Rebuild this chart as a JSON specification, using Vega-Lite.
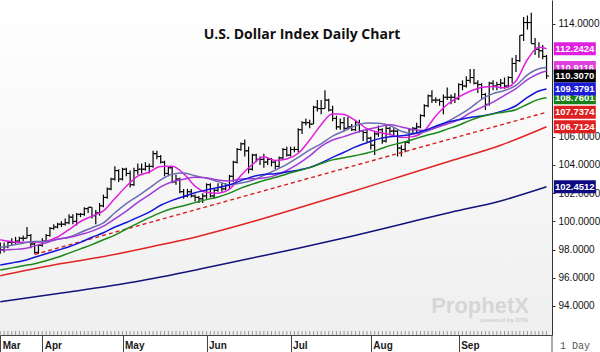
{
"$schema": "https://vega.github.io/schema/vega-lite/v6.json",
"width": 552, "height": 335,
"autosize": {"type": "none"},
"padding": {"left": 0, "top": 0, "right": 48, "bottom": 17},
"background": "#ffffff",
"config": {"view": {"stroke": null}, "font": "Liberation Sans"},
"datasets": {
"bars": [
{"i":-11,"d":"2022-03-17","o":98.4,"h":98.5,"l":97.7,"c":98.0},
{"i":-10,"d":"2022-03-18","o":98.0,"h":98.5,"l":97.8,"c":98.2},
{"i":-9,"d":"2022-03-21","o":98.2,"h":98.6,"l":98.1,"c":98.5},
{"i":-8,"d":"2022-03-22","o":98.5,"h":98.8,"l":98.3,"c":98.5},
{"i":-7,"d":"2022-03-23","o":98.5,"h":98.9,"l":98.4,"c":98.6},
{"i":-6,"d":"2022-03-24","o":98.6,"h":98.9,"l":98.5,"c":98.8},
{"i":-5,"d":"2022-03-25","o":98.8,"h":99.0,"l":98.6,"c":98.8},
{"i":-4,"d":"2022-03-28","o":98.8,"h":99.6,"l":98.8,"c":99.0},
{"i":-3,"d":"2022-03-29","o":99.0,"h":99.1,"l":98.1,"c":98.4},
{"i":-2,"d":"2022-03-30","o":98.4,"h":98.5,"l":97.7,"c":97.8},
{"i":-1,"d":"2022-03-31","o":97.8,"h":98.4,"l":97.7,"c":98.3},
{"i":0,"d":"2022-04-01","o":98.3,"h":98.8,"l":98.2,"c":98.6},
{"i":1,"d":"2022-04-04","o":98.6,"h":99.1,"l":98.6,"c":99.0},
{"i":2,"d":"2022-04-05","o":99.0,"h":99.6,"l":98.9,"c":99.5},
{"i":3,"d":"2022-04-06","o":99.5,"h":99.8,"l":99.4,"c":99.6},
{"i":4,"d":"2022-04-07","o":99.6,"h":99.9,"l":99.5,"c":99.8},
{"i":5,"d":"2022-04-08","o":99.8,"h":100.0,"l":99.6,"c":99.8},
{"i":6,"d":"2022-04-11","o":99.8,"h":100.2,"l":99.7,"c":99.9},
{"i":7,"d":"2022-04-12","o":99.9,"h":100.5,"l":99.8,"c":100.3},
{"i":8,"d":"2022-04-13","o":100.3,"h":100.5,"l":99.8,"c":100.0},
{"i":9,"d":"2022-04-14","o":100.0,"h":100.6,"l":99.7,"c":100.5},
{"i":10,"d":"2022-04-15","o":100.5,"h":100.6,"l":100.3,"c":100.5},
{"i":11,"d":"2022-04-18","o":100.5,"h":101.0,"l":100.4,"c":100.9},
{"i":12,"d":"2022-04-19","o":100.9,"h":101.0,"l":100.6,"c":101.0},
{"i":13,"d":"2022-04-20","o":101.0,"h":101.0,"l":100.2,"c":100.4},
{"i":14,"d":"2022-04-21","o":100.4,"h":100.8,"l":99.8,"c":100.6},
{"i":15,"d":"2022-04-22","o":100.6,"h":101.3,"l":100.4,"c":101.1},
{"i":16,"d":"2022-04-25","o":101.1,"h":101.9,"l":101.0,"c":101.7},
{"i":17,"d":"2022-04-26","o":101.7,"h":102.4,"l":101.6,"c":102.3},
{"i":18,"d":"2022-04-27","o":102.3,"h":103.1,"l":102.2,"c":103.0},
{"i":19,"d":"2022-04-28","o":103.0,"h":103.9,"l":102.9,"c":103.6},
{"i":20,"d":"2022-04-29","o":103.6,"h":103.7,"l":102.8,"c":103.0},
{"i":21,"d":"2022-05-02","o":103.0,"h":103.8,"l":102.9,"c":103.7},
{"i":22,"d":"2022-05-03","o":103.7,"h":103.8,"l":103.2,"c":103.4},
{"i":23,"d":"2022-05-04","o":103.4,"h":103.6,"l":102.4,"c":102.6},
{"i":24,"d":"2022-05-05","o":102.6,"h":103.8,"l":102.5,"c":103.6},
{"i":25,"d":"2022-05-06","o":103.6,"h":104.1,"l":103.3,"c":103.7},
{"i":26,"d":"2022-05-09","o":103.7,"h":104.1,"l":103.4,"c":103.7},
{"i":27,"d":"2022-05-10","o":103.7,"h":104.2,"l":103.6,"c":103.9},
{"i":28,"d":"2022-05-11","o":103.9,"h":104.1,"l":103.4,"c":103.9},
{"i":29,"d":"2022-05-12","o":103.9,"h":105.0,"l":103.8,"c":104.8},
{"i":30,"d":"2022-05-13","o":104.8,"h":105.0,"l":104.4,"c":104.6},
{"i":31,"d":"2022-05-16","o":104.6,"h":104.7,"l":104.1,"c":104.2},
{"i":32,"d":"2022-05-17","o":104.2,"h":104.3,"l":103.2,"c":103.4},
{"i":33,"d":"2022-05-18","o":103.4,"h":103.9,"l":103.2,"c":103.8},
{"i":34,"d":"2022-05-19","o":103.8,"h":103.9,"l":102.7,"c":102.8},
{"i":35,"d":"2022-05-20","o":102.8,"h":103.3,"l":102.6,"c":103.0},
{"i":36,"d":"2022-05-23","o":103.0,"h":103.1,"l":102.0,"c":102.1},
{"i":37,"d":"2022-05-24","o":102.1,"h":102.3,"l":101.6,"c":101.8},
{"i":38,"d":"2022-05-25","o":101.8,"h":102.3,"l":101.7,"c":102.1},
{"i":39,"d":"2022-05-26","o":102.1,"h":102.3,"l":101.7,"c":101.8},
{"i":40,"d":"2022-05-27","o":101.8,"h":101.9,"l":101.4,"c":101.7},
{"i":41,"d":"2022-05-30","o":101.7,"h":101.8,"l":101.3,"c":101.6},
{"i":42,"d":"2022-05-31","o":101.6,"h":102.0,"l":101.3,"c":101.8},
{"i":43,"d":"2022-06-01","o":101.8,"h":102.7,"l":101.6,"c":102.6},
{"i":44,"d":"2022-06-02","o":102.6,"h":102.7,"l":101.7,"c":101.8},
{"i":45,"d":"2022-06-03","o":101.8,"h":102.3,"l":101.6,"c":102.2},
{"i":46,"d":"2022-06-06","o":102.2,"h":102.7,"l":102.1,"c":102.4},
{"i":47,"d":"2022-06-07","o":102.4,"h":102.7,"l":102.1,"c":102.3},
{"i":48,"d":"2022-06-08","o":102.3,"h":102.7,"l":102.2,"c":102.6},
{"i":49,"d":"2022-06-09","o":102.6,"h":103.3,"l":102.3,"c":103.2},
{"i":50,"d":"2022-06-10","o":103.2,"h":104.3,"l":102.8,"c":104.2},
{"i":51,"d":"2022-06-13","o":104.2,"h":105.2,"l":104.1,"c":105.1},
{"i":52,"d":"2022-06-14","o":105.1,"h":105.6,"l":105.0,"c":105.5},
{"i":53,"d":"2022-06-15","o":105.5,"h":105.8,"l":104.6,"c":105.0},
{"i":54,"d":"2022-06-16","o":105.0,"h":105.3,"l":103.4,"c":103.7},
{"i":55,"d":"2022-06-17","o":103.7,"h":104.8,"l":103.6,"c":104.7},
{"i":56,"d":"2022-06-20","o":104.7,"h":104.8,"l":104.2,"c":104.4},
{"i":57,"d":"2022-06-21","o":104.4,"h":104.6,"l":104.0,"c":104.4},
{"i":58,"d":"2022-06-22","o":104.4,"h":104.8,"l":103.8,"c":104.2},
{"i":59,"d":"2022-06-23","o":104.2,"h":104.5,"l":104.0,"c":104.4},
{"i":60,"d":"2022-06-24","o":104.4,"h":104.5,"l":103.9,"c":104.2},
{"i":61,"d":"2022-06-27","o":104.2,"h":104.3,"l":103.7,"c":103.9},
{"i":62,"d":"2022-06-28","o":103.9,"h":104.6,"l":103.8,"c":104.5},
{"i":63,"d":"2022-06-29","o":104.5,"h":105.2,"l":104.4,"c":105.1},
{"i":64,"d":"2022-06-30","o":105.1,"h":105.3,"l":104.6,"c":104.7},
{"i":65,"d":"2022-07-01","o":104.7,"h":105.3,"l":104.6,"c":105.1},
{"i":66,"d":"2022-07-04","o":105.1,"h":105.3,"l":104.9,"c":105.1},
{"i":67,"d":"2022-07-05","o":105.1,"h":106.6,"l":104.9,"c":106.5},
{"i":68,"d":"2022-07-06","o":106.5,"h":107.1,"l":106.2,"c":107.0},
{"i":69,"d":"2022-07-07","o":107.0,"h":107.3,"l":106.8,"c":107.0},
{"i":70,"d":"2022-07-08","o":107.0,"h":107.2,"l":106.6,"c":106.9},
{"i":71,"d":"2022-07-11","o":106.9,"h":108.2,"l":106.9,"c":108.1},
{"i":72,"d":"2022-07-12","o":108.1,"h":108.6,"l":107.8,"c":108.0},
{"i":73,"d":"2022-07-13","o":108.0,"h":108.6,"l":107.6,"c":108.0},
{"i":74,"d":"2022-07-14","o":108.0,"h":109.3,"l":108.0,"c":108.6},
{"i":75,"d":"2022-07-15","o":108.6,"h":108.7,"l":107.8,"c":107.9},
{"i":76,"d":"2022-07-18","o":107.9,"h":108.2,"l":107.1,"c":107.3},
{"i":77,"d":"2022-07-19","o":107.3,"h":107.5,"l":106.5,"c":106.7},
{"i":78,"d":"2022-07-20","o":106.7,"h":107.3,"l":106.5,"c":107.0},
{"i":79,"d":"2022-07-21","o":107.0,"h":107.4,"l":106.4,"c":106.6},
{"i":80,"d":"2022-07-22","o":106.6,"h":107.4,"l":106.5,"c":106.7},
{"i":81,"d":"2022-07-25","o":106.7,"h":106.9,"l":106.4,"c":106.5},
{"i":82,"d":"2022-07-26","o":106.5,"h":107.2,"l":106.4,"c":107.0},
{"i":83,"d":"2022-07-27","o":107.0,"h":107.2,"l":106.3,"c":106.4},
{"i":84,"d":"2022-07-28","o":106.4,"h":106.5,"l":105.7,"c":106.3},
{"i":85,"d":"2022-07-29","o":106.3,"h":106.5,"l":105.6,"c":105.9},
{"i":86,"d":"2022-08-01","o":105.9,"h":106.0,"l":105.1,"c":105.4},
{"i":87,"d":"2022-08-02","o":105.4,"h":106.4,"l":104.7,"c":106.2},
{"i":88,"d":"2022-08-03","o":106.2,"h":106.8,"l":106.0,"c":106.5},
{"i":89,"d":"2022-08-04","o":106.5,"h":106.6,"l":105.5,"c":105.7},
{"i":90,"d":"2022-08-05","o":105.7,"h":106.9,"l":105.6,"c":106.6},
{"i":91,"d":"2022-08-08","o":106.6,"h":106.7,"l":106.1,"c":106.4},
{"i":92,"d":"2022-08-09","o":106.4,"h":106.6,"l":106.1,"c":106.4},
{"i":93,"d":"2022-08-10","o":106.4,"h":106.5,"l":104.6,"c":105.2},
{"i":94,"d":"2022-08-11","o":105.2,"h":105.4,"l":104.6,"c":105.1},
{"i":95,"d":"2022-08-12","o":105.1,"h":105.7,"l":104.9,"c":105.6},
{"i":96,"d":"2022-08-15","o":105.6,"h":106.6,"l":105.5,"c":106.5},
{"i":97,"d":"2022-08-16","o":106.5,"h":106.7,"l":106.2,"c":106.6},
{"i":98,"d":"2022-08-17","o":106.6,"h":107.0,"l":106.3,"c":106.7},
{"i":99,"d":"2022-08-18","o":106.7,"h":107.6,"l":106.6,"c":107.5},
{"i":100,"d":"2022-08-19","o":107.5,"h":108.3,"l":107.4,"c":108.2},
{"i":101,"d":"2022-08-22","o":108.2,"h":109.0,"l":108.1,"c":108.9},
{"i":102,"d":"2022-08-23","o":108.9,"h":109.3,"l":108.4,"c":108.6},
{"i":103,"d":"2022-08-24","o":108.6,"h":108.8,"l":108.4,"c":108.6},
{"i":104,"d":"2022-08-25","o":108.6,"h":108.7,"l":108.2,"c":108.5},
{"i":105,"d":"2022-08-26","o":108.5,"h":109.0,"l":107.6,"c":108.8},
{"i":106,"d":"2022-08-29","o":108.8,"h":109.5,"l":108.6,"c":108.8},
{"i":107,"d":"2022-08-30","o":108.8,"h":109.0,"l":108.3,"c":108.8},
{"i":108,"d":"2022-08-31","o":108.8,"h":109.1,"l":108.4,"c":108.7},
{"i":109,"d":"2022-09-01","o":108.7,"h":109.8,"l":108.6,"c":109.7},
{"i":110,"d":"2022-09-02","o":109.7,"h":110.0,"l":109.3,"c":109.6},
{"i":111,"d":"2022-09-05","o":109.6,"h":110.3,"l":109.5,"c":110.0},
{"i":112,"d":"2022-09-06","o":110.0,"h":110.8,"l":109.8,"c":110.2},
{"i":113,"d":"2022-09-07","o":110.2,"h":110.8,"l":109.7,"c":109.8},
{"i":114,"d":"2022-09-08","o":109.8,"h":110.0,"l":109.1,"c":109.7},
{"i":115,"d":"2022-09-09","o":109.7,"h":109.8,"l":108.7,"c":109.0},
{"i":116,"d":"2022-09-12","o":109.0,"h":109.1,"l":107.9,"c":108.3},
{"i":117,"d":"2022-09-13","o":108.3,"h":109.9,"l":108.2,"c":109.8},
{"i":118,"d":"2022-09-14","o":109.8,"h":110.0,"l":109.3,"c":109.6},
{"i":119,"d":"2022-09-15","o":109.6,"h":109.9,"l":109.3,"c":109.7},
{"i":120,"d":"2022-09-16","o":109.7,"h":110.1,"l":109.4,"c":109.8},
{"i":121,"d":"2022-09-19","o":109.8,"h":110.2,"l":109.4,"c":109.6},
{"i":122,"d":"2022-09-20","o":109.6,"h":110.3,"l":109.5,"c":110.2},
{"i":123,"d":"2022-09-21","o":110.2,"h":111.6,"l":109.8,"c":111.2},
{"i":124,"d":"2022-09-22","o":111.2,"h":111.8,"l":110.6,"c":111.4},
{"i":125,"d":"2022-09-23","o":111.4,"h":113.2,"l":111.3,"c":113.2},
{"i":126,"d":"2022-09-26","o":113.2,"h":114.5,"l":112.8,"c":114.1},
{"i":127,"d":"2022-09-27","o":114.1,"h":114.6,"l":113.6,"c":114.1},
{"i":128,"d":"2022-09-28","o":114.1,"h":114.8,"l":112.6,"c":112.6},
{"i":129,"d":"2022-09-29","o":112.6,"h":113.0,"l":111.8,"c":112.2},
{"i":130,"d":"2022-09-30","o":112.2,"h":112.7,"l":111.6,"c":112.1},
{"i":131,"d":"2022-10-03","o":112.1,"h":112.5,"l":111.5,"c":111.7},
{"i":132,"d":"2022-10-04","o":111.7,"h":111.8,"l":110.1,"c":110.31}
],
"ma": [
{"s":"MA9","i":-11,"v":98.69},{"s":"MA9","i":-8,"v":98.56},{"s":"MA9","i":-5,"v":98.51},{"s":"MA9","i":-2,"v":98.51},{"s":"MA9","i":1,"v":98.59},{"s":"MA9","i":4,"v":98.89},{"s":"MA9","i":7,"v":99.42},{"s":"MA9","i":10,"v":99.99},{"s":"MA9","i":13,"v":100.37},{"s":"MA9","i":16,"v":100.74},{"s":"MA9","i":19,"v":101.62},{"s":"MA9","i":22,"v":102.49},{"s":"MA9","i":25,"v":103.21},{"s":"MA9","i":28,"v":103.5},{"s":"MA9","i":31,"v":103.89},{"s":"MA9","i":34,"v":103.9},{"s":"MA9","i":37,"v":103.39},{"s":"MA9","i":40,"v":102.5},{"s":"MA9","i":43,"v":102.06},{"s":"MA9","i":46,"v":102.0},{"s":"MA9","i":49,"v":102.28},{"s":"MA9","i":52,"v":103.26},{"s":"MA9","i":55,"v":104.03},{"s":"MA9","i":58,"v":104.58},{"s":"MA9","i":61,"v":104.32},{"s":"MA9","i":64,"v":104.42},{"s":"MA9","i":67,"v":104.83},{"s":"MA9","i":70,"v":105.77},{"s":"MA9","i":73,"v":106.86},{"s":"MA9","i":76,"v":107.64},{"s":"MA9","i":79,"v":107.58},{"s":"MA9","i":82,"v":107.14},{"s":"MA9","i":85,"v":106.57},{"s":"MA9","i":88,"v":106.32},{"s":"MA9","i":91,"v":106.16},{"s":"MA9","i":94,"v":105.94},{"s":"MA9","i":97,"v":106.01},{"s":"MA9","i":100,"v":106.42},{"s":"MA9","i":103,"v":107.47},{"s":"MA9","i":106,"v":108.29},{"s":"MA9","i":109,"v":108.82},{"s":"MA9","i":112,"v":109.23},{"s":"MA9","i":115,"v":109.5},{"s":"MA9","i":118,"v":109.56},{"s":"MA9","i":121,"v":109.48},{"s":"MA9","i":124,"v":109.96},{"s":"MA9","i":127,"v":111.48},{"s":"MA9","i":130,"v":112.34},{"s":"MA9","i":132,"v":112.24},
{"s":"MA20","i":-11,"v":98.15},{"s":"MA20","i":-8,"v":98.3},{"s":"MA20","i":-5,"v":98.45},{"s":"MA20","i":-2,"v":98.57},{"s":"MA20","i":1,"v":98.57},{"s":"MA20","i":4,"v":98.74},{"s":"MA20","i":7,"v":98.89},{"s":"MA20","i":10,"v":99.21},{"s":"MA20","i":13,"v":99.55},{"s":"MA20","i":16,"v":99.89},{"s":"MA20","i":19,"v":100.61},{"s":"MA20","i":22,"v":101.26},{"s":"MA20","i":25,"v":101.79},{"s":"MA20","i":28,"v":102.36},{"s":"MA20","i":31,"v":102.94},{"s":"MA20","i":34,"v":103.34},{"s":"MA20","i":37,"v":103.43},{"s":"MA20","i":40,"v":103.23},{"s":"MA20","i":43,"v":103.05},{"s":"MA20","i":46,"v":102.82},{"s":"MA20","i":49,"v":102.59},{"s":"MA20","i":52,"v":102.72},{"s":"MA20","i":55,"v":102.91},{"s":"MA20","i":58,"v":103.26},{"s":"MA20","i":61,"v":103.63},{"s":"MA20","i":64,"v":104.04},{"s":"MA20","i":67,"v":104.53},{"s":"MA20","i":70,"v":105.07},{"s":"MA20","i":73,"v":105.5},{"s":"MA20","i":76,"v":106.05},{"s":"MA20","i":79,"v":106.41},{"s":"MA20","i":82,"v":106.79},{"s":"MA20","i":85,"v":106.98},{"s":"MA20","i":88,"v":106.95},{"s":"MA20","i":91,"v":106.79},{"s":"MA20","i":94,"v":106.39},{"s":"MA20","i":97,"v":106.23},{"s":"MA20","i":100,"v":106.34},{"s":"MA20","i":103,"v":106.65},{"s":"MA20","i":106,"v":107.07},{"s":"MA20","i":109,"v":107.51},{"s":"MA20","i":112,"v":108.03},{"s":"MA20","i":115,"v":108.66},{"s":"MA20","i":118,"v":109.06},{"s":"MA20","i":121,"v":109.28},{"s":"MA20","i":124,"v":109.64},{"s":"MA20","i":127,"v":110.39},{"s":"MA20","i":130,"v":110.83},{"s":"MA20","i":132,"v":110.91},
{"s":"MA25","i":-11,"v":97.95},{"s":"MA25","i":-8,"v":98.0},{"s":"MA25","i":-5,"v":98.05},{"s":"MA25","i":-2,"v":98.26},{"s":"MA25","i":1,"v":98.48},{"s":"MA25","i":4,"v":98.73},{"s":"MA25","i":7,"v":98.85},{"s":"MA25","i":10,"v":99.06},{"s":"MA25","i":13,"v":99.31},{"s":"MA25","i":16,"v":99.66},{"s":"MA25","i":19,"v":100.18},{"s":"MA25","i":22,"v":100.73},{"s":"MA25","i":25,"v":101.34},{"s":"MA25","i":28,"v":101.88},{"s":"MA25","i":31,"v":102.44},{"s":"MA25","i":34,"v":102.81},{"s":"MA25","i":37,"v":102.99},{"s":"MA25","i":40,"v":103.13},{"s":"MA25","i":43,"v":103.09},{"s":"MA25","i":46,"v":102.93},{"s":"MA25","i":49,"v":102.87},{"s":"MA25","i":52,"v":103.01},{"s":"MA25","i":55,"v":103.02},{"s":"MA25","i":58,"v":103.08},{"s":"MA25","i":61,"v":103.26},{"s":"MA25","i":64,"v":103.61},{"s":"MA25","i":67,"v":104.07},{"s":"MA25","i":70,"v":104.64},{"s":"MA25","i":73,"v":105.32},{"s":"MA25","i":76,"v":105.77},{"s":"MA25","i":79,"v":106.01},{"s":"MA25","i":82,"v":106.28},{"s":"MA25","i":85,"v":106.51},{"s":"MA25","i":88,"v":106.7},{"s":"MA25","i":91,"v":106.85},{"s":"MA25","i":94,"v":106.7},{"s":"MA25","i":97,"v":106.52},{"s":"MA25","i":100,"v":106.44},{"s":"MA25","i":103,"v":106.64},{"s":"MA25","i":106,"v":106.9},{"s":"MA25","i":109,"v":107.2},{"s":"MA25","i":112,"v":107.69},{"s":"MA25","i":115,"v":108.08},{"s":"MA25","i":118,"v":108.46},{"s":"MA25","i":121,"v":108.94},{"s":"MA25","i":124,"v":109.42},{"s":"MA25","i":127,"v":110.05},{"s":"MA25","i":130,"v":110.49},{"s":"MA25","i":132,"v":110.66},
{"s":"MA40","i":-11,"v":96.9},{"s":"MA40","i":-8,"v":97.05},{"s":"MA40","i":-5,"v":97.2},{"s":"MA40","i":-2,"v":97.45},{"s":"MA40","i":1,"v":97.7},{"s":"MA40","i":4,"v":97.95},{"s":"MA40","i":7,"v":98.2},{"s":"MA40","i":10,"v":98.51},{"s":"MA40","i":13,"v":98.87},{"s":"MA40","i":16,"v":99.19},{"s":"MA40","i":19,"v":99.6},{"s":"MA40","i":22,"v":99.92},{"s":"MA40","i":25,"v":100.28},{"s":"MA40","i":28,"v":100.66},{"s":"MA40","i":31,"v":101.14},{"s":"MA40","i":34,"v":101.49},{"s":"MA40","i":37,"v":101.76},{"s":"MA40","i":40,"v":102.03},{"s":"MA40","i":43,"v":102.23},{"s":"MA40","i":46,"v":102.4},{"s":"MA40","i":49,"v":102.58},{"s":"MA40","i":52,"v":102.89},{"s":"MA40","i":55,"v":103.17},{"s":"MA40","i":58,"v":103.32},{"s":"MA40","i":61,"v":103.38},{"s":"MA40","i":64,"v":103.5},{"s":"MA40","i":67,"v":103.63},{"s":"MA40","i":70,"v":103.82},{"s":"MA40","i":73,"v":104.14},{"s":"MA40","i":76,"v":104.54},{"s":"MA40","i":79,"v":104.9},{"s":"MA40","i":82,"v":105.28},{"s":"MA40","i":85,"v":105.58},{"s":"MA40","i":88,"v":105.85},{"s":"MA40","i":91,"v":106.0},{"s":"MA40","i":94,"v":106.07},{"s":"MA40","i":97,"v":106.2},{"s":"MA40","i":100,"v":106.44},{"s":"MA40","i":103,"v":106.75},{"s":"MA40","i":106,"v":107.03},{"s":"MA40","i":109,"v":107.2},{"s":"MA40","i":112,"v":107.37},{"s":"MA40","i":115,"v":107.47},{"s":"MA40","i":118,"v":107.64},{"s":"MA40","i":121,"v":107.87},{"s":"MA40","i":124,"v":108.2},{"s":"MA40","i":127,"v":108.79},{"s":"MA40","i":130,"v":109.25},{"s":"MA40","i":132,"v":109.38},
{"s":"MA50","i":-11,"v":96.55},{"s":"MA50","i":-8,"v":96.7},{"s":"MA50","i":-5,"v":96.85},{"s":"MA50","i":-2,"v":97.0},{"s":"MA50","i":1,"v":97.2},{"s":"MA50","i":4,"v":97.45},{"s":"MA50","i":7,"v":97.75},{"s":"MA50","i":10,"v":98.05},{"s":"MA50","i":13,"v":98.35},{"s":"MA50","i":16,"v":98.7},{"s":"MA50","i":19,"v":99.02},{"s":"MA50","i":22,"v":99.46},{"s":"MA50","i":25,"v":99.86},{"s":"MA50","i":28,"v":100.26},{"s":"MA50","i":31,"v":100.62},{"s":"MA50","i":34,"v":100.91},{"s":"MA50","i":37,"v":101.11},{"s":"MA50","i":40,"v":101.33},{"s":"MA50","i":43,"v":101.54},{"s":"MA50","i":46,"v":101.73},{"s":"MA50","i":49,"v":102.0},{"s":"MA50","i":52,"v":102.36},{"s":"MA50","i":55,"v":102.64},{"s":"MA50","i":58,"v":102.9},{"s":"MA50","i":61,"v":103.11},{"s":"MA50","i":64,"v":103.36},{"s":"MA50","i":67,"v":103.59},{"s":"MA50","i":70,"v":103.81},{"s":"MA50","i":73,"v":104.1},{"s":"MA50","i":76,"v":104.36},{"s":"MA50","i":79,"v":104.51},{"s":"MA50","i":82,"v":104.67},{"s":"MA50","i":85,"v":104.85},{"s":"MA50","i":88,"v":105.09},{"s":"MA50","i":91,"v":105.37},{"s":"MA50","i":94,"v":105.58},{"s":"MA50","i":97,"v":105.81},{"s":"MA50","i":100,"v":106.06},{"s":"MA50","i":103,"v":106.27},{"s":"MA50","i":106,"v":106.54},{"s":"MA50","i":109,"v":106.82},{"s":"MA50","i":112,"v":107.16},{"s":"MA50","i":115,"v":107.44},{"s":"MA50","i":118,"v":107.62},{"s":"MA50","i":121,"v":107.76},{"s":"MA50","i":124,"v":107.92},{"s":"MA50","i":127,"v":108.31},{"s":"MA50","i":130,"v":108.65},{"s":"MA50","i":132,"v":108.76},
{"s":"MA100","i":-11,"v":96.14},{"s":"MA100","i":2,"v":96.85},{"s":"MA100","i":15,"v":97.45},{"s":"MA100","i":28,"v":98.17},{"s":"MA100","i":41,"v":98.95},{"s":"MA100","i":54,"v":99.9},{"s":"MA100","i":67,"v":100.95},{"s":"MA100","i":81,"v":102.1},{"s":"MA100","i":94,"v":103.2},{"s":"MA100","i":107,"v":104.3},{"s":"MA100","i":120,"v":105.4},{"s":"MA100","i":132,"v":106.71},
{"s":"MA200","i":-11,"v":94.3},{"s":"MA200","i":6,"v":94.95},{"s":"MA200","i":24,"v":95.7},{"s":"MA200","i":41,"v":96.6},{"s":"MA200","i":54,"v":97.35},{"s":"MA200","i":67,"v":98.1},{"s":"MA200","i":81,"v":98.95},{"s":"MA200","i":94,"v":99.8},{"s":"MA200","i":107,"v":100.65},{"s":"MA200","i":120,"v":101.45},{"s":"MA200","i":132,"v":102.45}
],
"trend": [{"i":-2,"v":97.65},{"i":132,"v":107.74}],
"labA": [{"s":"MA9","v":112.2424},{"s":"MA20","v":110.9116},{"s":"MA50","v":108.7601},{"s":"MA100","v":106.7124},{"s":"MA200","v":102.4512}],
"labB": [{"s":"Last","v":110.307},{"s":"MA40","v":109.3791},{"s":"Trend","v":107.7374}]
},
"resolve": {"scale": {"color": "independent"}},
"layer": [
{"data": {"values": [{"area": "plot"}]},
 "mark": {"type": "rect", "color": {"gradient": "linear", "x1": 0, "y1": 0, "x2": 0, "y2": 1, "stops": [{"offset": 0, "color": "#ffffff"}, {"offset": 1, "color": "#efefef"}]}},
 "encoding": {
  "x": {"datum": -11.07, "type": "quantitative", "scale": {"domain": [-11.07, 133.43], "nice": false, "zero": false},
   "axis": {"orient": "bottom", "title": null, "grid": false, "values": [-11, 0, 21, 43, 65, 86, 109],
    "labelExpr": "['Mar','Apr','May','Jun','Jul','Aug','Sep'][indexof([-11,0,21,43,65,86,109], datum.value)]",
    "tickSize": 17, "tickColor": "#444444", "domainColor": "#444444", "labelAlign": "left", "labelBaseline": "alphabetic",
    "labelPadding": -4, "labelOffset": 2, "labelFontSize": 10, "labelFontWeight": "bold", "labelColor": "#1a1a1a",
    "labelFont": "Liberation Sans", "labelOverlap": false, "labelFlush": false}},
  "x2": {"datum": 133.43},
  "y": {"datum": 115.7, "type": "quantitative", "scale": {"domain": [91.94, 115.7], "nice": false, "zero": false},
   "axis": {"orient": "right", "title": null, "grid": false,
    "values": [94, 96, 98, 100, 102, 104, 106, 114],
    "format": ".4f",
    "tickSize": 3, "tickColor": "#333333", "domainColor": "#333333", "labelPadding": 3, "labelFontSize": 10,
    "labelColor": "#111111", "labelFont": "Liberation Sans", "labelOverlap": false, "labelFlush": false, "labelBaseline": "middle"}},
  "y2": {"datum": 91.94}}},
{"data": {"name": "bars"},
 "mark": {"type": "tick", "orient": "vertical", "size": 4, "thickness": 1, "color": "#999999", "opacity": 1, "yOffset": -2},
 "encoding": {
  "x": {"field": "i", "type": "quantitative", "scale": {"domain": [-11.07, 133.43], "nice": false, "zero": false}},
  "y": {"datum": 91.94, "type": "quantitative", "scale": {"domain": [91.94, 115.7], "nice": false, "zero": false}}}},
{"data": {"name": "bars"},
 "mark": {"type": "rule", "color": "#000000", "strokeWidth": 1.2},
 "encoding": {
  "x": {"field": "i", "type": "quantitative", "scale": {"domain": [-11.07, 133.43], "nice": false, "zero": false}},
  "y": {"field": "l", "type": "quantitative", "scale": {"domain": [91.94, 115.7], "nice": false, "zero": false}},
  "y2": {"field": "h"}}},
{"data": {"name": "bars"},
 "mark": {"type": "tick", "orient": "horizontal", "size": 2.6, "thickness": 1, "color": "#000000", "opacity": 1, "xOffset": -1.4},
 "encoding": {
  "x": {"field": "i", "type": "quantitative", "scale": {"domain": [-11.07, 133.43], "nice": false, "zero": false}},
  "y": {"field": "o", "type": "quantitative", "scale": {"domain": [91.94, 115.7], "nice": false, "zero": false}}}},
{"data": {"name": "bars"},
 "mark": {"type": "tick", "orient": "horizontal", "size": 2.6, "thickness": 1, "color": "#000000", "opacity": 1, "xOffset": 1.4},
 "encoding": {
  "x": {"field": "i", "type": "quantitative", "scale": {"domain": [-11.07, 133.43], "nice": false, "zero": false}},
  "y": {"field": "c", "type": "quantitative", "scale": {"domain": [91.94, 115.7], "nice": false, "zero": false}}}},
{"data": {"name": "trend"},
 "mark": {"type": "line", "color": "#d42020", "strokeWidth": 1.4, "strokeDash": [4, 3]},
 "encoding": {
  "x": {"field": "i", "type": "quantitative", "scale": {"domain": [-11.07, 133.43], "nice": false, "zero": false}},
  "y": {"field": "v", "type": "quantitative", "scale": {"domain": [91.94, 115.7], "nice": false, "zero": false}}}},
{"data": {"name": "ma"},
 "mark": {"type": "line", "interpolate": "monotone", "strokeWidth": 1.5},
 "encoding": {
  "x": {"field": "i", "type": "quantitative", "scale": {"domain": [-11.07, 133.43], "nice": false, "zero": false}},
  "y": {"field": "v", "type": "quantitative", "scale": {"domain": [91.94, 115.7], "nice": false, "zero": false}},
  "color": {"field": "s", "type": "nominal", "legend": null,
   "scale": {"domain": ["MA200", "MA100", "MA50", "MA40", "MA25", "MA20", "MA9"], "range": ["#12127a", "#e02424", "#1a881a", "#1515d8", "#a23ad8", "#6c6cb0", "#e01ee0"]}}}},
{"data": {"name": "labA"},
 "mark": {"type": "tick", "orient": "horizontal", "size": 42, "thickness": 13, "opacity": 1},
 "encoding": {
  "x": {"datum": 139.4, "type": "quantitative", "scale": {"domain": [-11.07, 133.43], "nice": false, "zero": false}},
  "y": {"field": "v", "type": "quantitative", "scale": {"domain": [91.94, 115.7], "nice": false, "zero": false}},
  "color": {"field": "s", "type": "nominal", "legend": null,
   "scale": {"domain": ["MA9", "MA20", "Last", "MA40", "MA50", "Trend", "MA100", "MA200"], "range": ["#e020e0", "#e040e0", "#000000", "#1c1cd8", "#168016", "#e02020", "#e02020", "#0c0c80"]}}}},
{"data": {"name": "labA"},
 "mark": {"type": "text", "color": "#ffffff", "fontSize": 9.5, "fontWeight": "bold", "align": "center", "baseline": "middle", "font": "Liberation Sans"},
 "encoding": {
  "x": {"datum": 139.4, "type": "quantitative", "scale": {"domain": [-11.07, 133.43], "nice": false, "zero": false}},
  "y": {"field": "v", "type": "quantitative", "scale": {"domain": [91.94, 115.7], "nice": false, "zero": false}},
  "text": {"field": "v", "type": "quantitative", "format": ".4f"}}},
{"data": {"name": "labB"},
 "mark": {"type": "tick", "orient": "horizontal", "size": 42, "thickness": 13, "opacity": 1},
 "encoding": {
  "x": {"datum": 139.4, "type": "quantitative", "scale": {"domain": [-11.07, 133.43], "nice": false, "zero": false}},
  "y": {"field": "v", "type": "quantitative", "scale": {"domain": [91.94, 115.7], "nice": false, "zero": false}},
  "color": {"field": "s", "type": "nominal", "legend": null,
   "scale": {"domain": ["MA9", "MA20", "Last", "MA40", "MA50", "Trend", "MA100", "MA200"], "range": ["#e020e0", "#e040e0", "#000000", "#1c1cd8", "#168016", "#e02020", "#e02020", "#0c0c80"]}}}},
{"data": {"name": "labB"},
 "mark": {"type": "text", "color": "#ffffff", "fontSize": 9.5, "fontWeight": "bold", "align": "center", "baseline": "middle", "font": "Liberation Sans"},
 "encoding": {
  "x": {"datum": 139.4, "type": "quantitative", "scale": {"domain": [-11.07, 133.43], "nice": false, "zero": false}},
  "y": {"field": "v", "type": "quantitative", "scale": {"domain": [91.94, 115.7], "nice": false, "zero": false}},
  "text": {"field": "v", "type": "quantitative", "format": ".4f"}}},
{"data": {"values": [{"t": "U.S. Dollar Index Daily Chart"}]},
 "mark": {"type": "text", "fontSize": 14, "fontWeight": "bold", "font": "Open Sans", "color": "#111111", "align": "center", "baseline": "middle"},
 "encoding": {
  "x": {"datum": 68.0, "type": "quantitative", "scale": {"domain": [-11.07, 133.43], "nice": false, "zero": false}},
  "y": {"datum": 113.25, "type": "quantitative", "scale": {"domain": [91.94, 115.7], "nice": false, "zero": false}},
  "text": {"field": "t"}}},
{"data": {"values": [{"t": "ProphetX"}]},
 "mark": {"type": "text", "fontSize": 22, "fontWeight": "bold", "font": "Liberation Sans", "color": "#d6d6d6", "align": "center", "baseline": "middle"},
 "encoding": {
  "x": {"datum": 114.6, "type": "quantitative", "scale": {"domain": [-11.07, 133.43], "nice": false, "zero": false}},
  "y": {"datum": 94.0, "type": "quantitative", "scale": {"domain": [91.94, 115.7], "nice": false, "zero": false}},
  "text": {"field": "t"}}},
{"data": {"values": [{"t": "powered by DTN"}]},
 "mark": {"type": "text", "fontSize": 6, "fontWeight": "bold", "font": "Liberation Sans", "color": "#cfcfcf", "align": "center", "baseline": "middle"},
 "encoding": {
  "x": {"datum": 120.9, "type": "quantitative", "scale": {"domain": [-11.07, 133.43], "nice": false, "zero": false}},
  "y": {"datum": 93.0, "type": "quantitative", "scale": {"domain": [91.94, 115.7], "nice": false, "zero": false}},
  "text": {"field": "t"}}},
{"data": {"values": [{"t": "1 Day"}]},
 "mark": {"type": "text", "fontSize": 10, "font": "Liberation Mono", "color": "#555555", "align": "left", "baseline": "alphabetic"},
 "encoding": {
  "x": {"datum": 135.5, "type": "quantitative", "scale": {"domain": [-11.07, 133.43], "nice": false, "zero": false}},
  "y": {"datum": 90.95, "type": "quantitative", "scale": {"domain": [91.94, 115.7], "nice": false, "zero": false}},
  "text": {"field": "t"}}},
{"data": {"values": [{"t": "edge"}]},
 "mark": {"type": "rule", "color": "#555555", "strokeWidth": 1},
 "encoding": {
  "x": {"datum": 133.43, "type": "quantitative", "scale": {"domain": [-11.07, 133.43], "nice": false, "zero": false}},
  "y": {"datum": 91.94, "type": "quantitative", "scale": {"domain": [91.94, 115.7], "nice": false, "zero": false}},
  "y2": {"datum": 90.74}}}
]
}
